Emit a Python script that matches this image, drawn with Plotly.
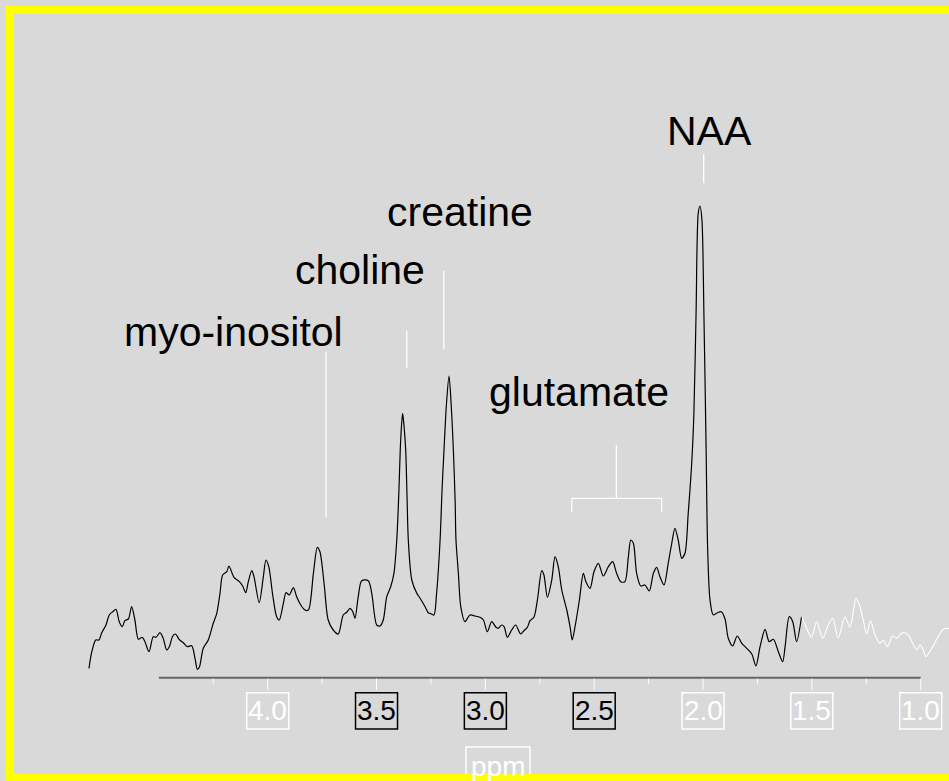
import plotly.graph_objects as go

# Proton MR spectrum: chemical shift (ppm) and signal intensity (a.u.)
ppm = [
    4.821, 4.808, 4.790, 4.775, 4.763, 4.743, 4.728, 4.712, 4.697, 4.682,
    4.668, 4.656, 4.640, 4.625, 4.610, 4.594, 4.576, 4.564, 4.545, 4.526,
    4.513, 4.495, 4.480, 4.464, 4.452, 4.436, 4.423, 4.407, 4.388, 4.369,
    4.349, 4.334, 4.323, 4.314, 4.296, 4.273, 4.250, 4.234, 4.219, 4.207,
    4.188, 4.178, 4.155, 4.130, 4.115, 4.101, 4.089, 4.073, 4.063, 4.039,
    4.020, 4.008, 3.995, 3.977, 3.959, 3.947, 3.928, 3.916, 3.901, 3.882,
    3.867, 3.848, 3.829, 3.813, 3.790, 3.772, 3.760, 3.741, 3.722, 3.699,
    3.676, 3.653, 3.637, 3.622, 3.609, 3.599, 3.584, 3.568, 3.538, 3.522,
    3.499, 3.484, 3.469, 3.453, 3.435, 3.420, 3.407, 3.397, 3.391, 3.385,
    3.380, 3.374, 3.366, 3.360, 3.354, 3.338, 3.315, 3.300, 3.277, 3.262,
    3.247, 3.236, 3.224, 3.208, 3.199, 3.190, 3.179, 3.167, 3.157, 3.147,
    3.139, 3.135, 3.124, 3.113, 3.094, 3.071, 3.048, 3.025, 3.009, 2.991,
    2.971, 2.951, 2.941, 2.925, 2.914, 2.899, 2.879, 2.861, 2.838, 2.823,
    2.807, 2.795, 2.777, 2.761, 2.741, 2.731, 2.715, 2.695, 2.680, 2.665,
    2.649, 2.626, 2.611, 2.601, 2.588, 2.568, 2.550, 2.538, 2.519, 2.501,
    2.481, 2.458, 2.435, 2.415, 2.397, 2.378, 2.359, 2.343, 2.332, 2.320,
    2.305, 2.286, 2.267, 2.247, 2.228, 2.213, 2.198, 2.179, 2.160, 2.145,
    2.129, 2.114, 2.098, 2.083, 2.068, 2.052, 2.042, 2.032, 2.022, 2.014,
    2.005, 1.996, 1.986, 1.979, 1.968, 1.953, 1.934, 1.916, 1.899, 1.884,
    1.864, 1.843, 1.822, 1.799, 1.776, 1.757, 1.738, 1.715, 1.696, 1.677,
    1.654, 1.634, 1.623, 1.604, 1.588, 1.570, 1.547,
]
intensity = [
    9.4, 26.0, 37.7, 37.7, 44.7, 52.7, 62.7, 66.0, 68.4, 56.0,
    51.0, 57.0, 58.7, 71.0, 57.7, 38.4, 40.4, 36.0, 26.0, 41.0,
    40.4, 45.0, 39.4, 27.7, 31.0, 41.7, 43.7, 38.4, 35.0, 31.0,
    32.0, 19.4, 8.4, 10.4, 29.4, 37.7, 54.4, 64.4, 84.4, 102.7,
    106.0, 111.7, 100.4, 96.0, 91.7, 85.0, 96.0, 107.0, 101.0, 75.0,
    101.0, 117.7, 111.0, 82.7, 61.0, 57.7, 74.4, 85.0, 82.7, 90.0,
    81.0, 72.7, 67.7, 67.7, 104.4, 130.4, 126.0, 94.4, 57.7, 47.7,
    43.7, 62.7, 65.4, 69.4, 66.0, 59.4, 81.0, 97.0, 97.0, 84.4,
    52.7, 51.7, 57.7, 81.0, 91.0, 104.4, 137.7, 187.7, 227.7, 252.7,
    264.4, 252.7, 227.7, 182.7, 137.7, 97.7, 84.4, 79.4, 71.0, 65.0,
    63.7, 62.7, 84.4, 137.7, 187.7, 227.7, 272.7, 301.7, 272.7, 227.7,
    177.7, 137.7, 104.4, 71.0, 56.0, 62.7, 61.7, 60.4, 57.7, 46.0,
    56.0, 50.4, 49.4, 52.7, 51.0, 40.4, 47.7, 52.7, 43.7, 47.0,
    50.4, 57.0, 60.4, 77.7, 107.0, 102.7, 80.4, 97.7, 121.0, 111.0,
    87.7, 67.7, 51.0, 37.7, 51.0, 77.7, 104.4, 96.0, 89.4, 106.0,
    114.4, 101.7, 111.0, 116.0, 104.4, 96.0, 96.0, 121.0, 137.7, 134.4,
    104.4, 91.7, 92.7, 86.7, 104.4, 110.4, 101.0, 92.7, 114.4, 132.7,
    149.4, 137.7, 119.4, 124.4, 164.4, 214.4, 264.4, 364.4, 464.4, 471.7,
    457.7, 364.4, 231.0, 131.0, 77.7, 62.7, 65.0, 66.0, 58.7, 39.4,
    31.7, 41.7, 34.4, 29.4, 23.7, 11.7, 31.0, 48.4, 36.0, 38.4,
    26.0, 16.0, 31.0, 61.0, 56.0, 36.0, 61.7,
]

# Upfield tail of the spectrum (below ~1.55 ppm)
ppm_tail = [
    1.547, 1.524, 1.501, 1.478, 1.450, 1.425, 1.404, 1.379, 1.348, 1.325,
    1.310, 1.297, 1.282, 1.264, 1.248, 1.230, 1.210, 1.187, 1.172, 1.153,
    1.129, 1.108, 1.092, 1.072, 1.052, 1.037, 1.018, 1.003, 0.991, 0.976,
    0.949, 0.924, 0.896, 0.870,
]
intensity_tail = [
    61.7, 49.4, 40.4, 56.0, 39.4, 52.7, 59.4, 39.4, 61.0, 50.4,
    66.0, 79.4, 72.7, 57.7, 43.7, 57.0, 42.7, 34.4, 37.7, 31.0,
    41.7, 39.4, 43.7, 45.0, 41.0, 34.4, 27.7, 32.7, 29.4, 21.0,
    29.4, 39.4, 48.4, 49.4,
]

# Axis ticks (ppm)
major_ticks = [4.0, 3.5, 3.0, 2.5, 2.0, 1.5, 1.0]
tick_labels = ["4.0", "3.5", "3.0", "2.5", "2.0", "1.5", "1.0"]
minor_ticks = [4.25, 3.75, 3.25, 2.75, 2.25, 1.75, 1.25]
axis_start, axis_end = 4.5, 1.0
dark_labels = {"3.5", "3.0", "2.5"}

# Metabolite labels: (text, label x, label y, guide x, guide y0, guide y1)
metabolites = [
    ("myo-inositol", 4.155, 346.0, 3.732, 160.4, 326.0),
    ("choline", 3.576, 407.7, 3.361, 309.4, 346.7),
    ("creatine", 3.117, 466.0, 3.191, 328.4, 407.0),
    ("NAA", 1.970, 546.7, 1.997, 494.4, 523.7),
]
glutamate = dict(text="glutamate", x=2.571, y=286.0,
                 stem_x=2.398, stem_top=232.7, bar_y=179.4,
                 left=2.603, right=2.190, leg_bottom=165.4)

BG = "#d9d9d9"
FONT = "Liberation Sans, Arial, Helvetica, sans-serif"

# tick label boxes (half width in ppm, top/bottom in intensity units)
BOX_HALF = 0.0965
BOX_TOP, BOX_BOTTOM = -15.0, -51.3
# axis title box
TITLE_X, TITLE_X0, TITLE_X1 = 2.942, 3.089, 2.795
TITLE_TOP, TITLE_TEXT_Y = -69.3, -89.0

fig = go.Figure()
fig.add_trace(go.Scatter(x=ppm, y=intensity, mode="lines",
                         line=dict(color="#000000", width=1.2, shape="spline", smoothing=0.8),
                         hoverinfo="skip", showlegend=False))
fig.add_trace(go.Scatter(x=ppm_tail, y=intensity_tail, mode="lines",
                         line=dict(color="#ffffff", width=1.1, shape="spline", smoothing=0.8),
                         hoverinfo="skip", showlegend=False))

shapes = []
# axis baseline
shapes.append(dict(type="line", xref="x", yref="y", x0=axis_start, x1=axis_end,
                   y0=0, y1=0, line=dict(color="#666666", width=2)))
for t in major_ticks:
    shapes.append(dict(type="line", xref="x", yref="y", x0=t, x1=t, y0=-1, y1=-12,
                       line=dict(color="#ffffff", width=1)))
for t in minor_ticks:
    shapes.append(dict(type="line", xref="x", yref="y", x0=t, x1=t, y0=-1, y1=-6,
                       line=dict(color="#ffffff", width=1)))
# boxed tick labels
for lbl, t in zip(tick_labels, major_ticks):
    col = "#000000" if lbl in dark_labels else "#ffffff"
    shapes.append(dict(type="rect", xref="x", yref="y", x0=t + BOX_HALF, x1=t - BOX_HALF,
                       y0=BOX_BOTTOM, y1=BOX_TOP, line=dict(color=col, width=1.5),
                       fillcolor="rgba(0,0,0,0)"))
shapes.append(dict(type="rect", xref="x", yref="y", x0=TITLE_X0, x1=TITLE_X1,
                   y0=-130, y1=TITLE_TOP, line=dict(color="#ffffff", width=1.5),
                   fillcolor="rgba(0,0,0,0)"))
# metabolite guide lines
for _, _, _, gx, gy0, gy1 in metabolites:
    shapes.append(dict(type="line", xref="x", yref="y", x0=gx, x1=gx, y0=gy0, y1=gy1,
                       line=dict(color="#ffffff", width=1.3)))
g = glutamate
shapes.append(dict(type="line", xref="x", yref="y", x0=g["stem_x"], x1=g["stem_x"],
                   y0=g["bar_y"], y1=g["stem_top"], line=dict(color="#ffffff", width=1.3)))
shapes.append(dict(type="line", xref="x", yref="y", x0=g["left"], x1=g["right"],
                   y0=g["bar_y"], y1=g["bar_y"], line=dict(color="#ffffff", width=1.3)))
for xx in (g["left"], g["right"]):
    shapes.append(dict(type="line", xref="x", yref="y", x0=xx, x1=xx,
                       y0=g["bar_y"], y1=g["leg_bottom"], line=dict(color="#ffffff", width=1.3)))
# yellow frame as filled bands along the top, left and bottom page edges
W, H = 949.0, 781.0
bands = [
    (6, 949, 6, 14),    # top  (x0, x1, y0, y1 in page pixels from top-left)
    (6, 14, 6, 781),    # left
    (6, 949, 774, 781),  # bottom
]
for bx0, bx1, by0, by1 in bands:
    shapes.append(dict(type="rect", xref="paper", yref="paper",
                       x0=bx0 / W, x1=bx1 / W, y0=1 - by1 / H, y1=1 - by0 / H,
                       line=dict(width=0), fillcolor="#ffff00"))

annotations = []
for lbl, t in zip(tick_labels, major_ticks):
    col = "#000000" if lbl in dark_labels else "#ffffff"
    annotations.append(dict(x=t, y=(BOX_TOP + BOX_BOTTOM) / 2, xref="x", yref="y",
                            text=lbl, showarrow=False, xanchor="center", yanchor="middle",
                            font=dict(family=FONT, size=28, color=col)))
annotations.append(dict(x=TITLE_X, y=TITLE_TEXT_Y, xref="x", yref="y", text="ppm",
                        showarrow=False, xanchor="center", yanchor="middle",
                        font=dict(family=FONT, size=28, color="#ffffff")))
for text, lx, ly, *_ in metabolites:
    annotations.append(dict(x=lx, y=ly, xref="x", yref="y", text=text, showarrow=False,
                            xanchor="center", yanchor="middle",
                            font=dict(family=FONT, size=41, color="#000000")))
annotations.append(dict(x=g["x"], y=g["y"], xref="x", yref="y", text=g["text"],
                        showarrow=False, xanchor="center", yanchor="middle",
                        font=dict(family=FONT, size=41, color="#000000")))

fig.update_layout(
    width=949, height=781,
    margin=dict(l=0, r=0, t=0, b=0),
    paper_bgcolor=BG, plot_bgcolor=BG,
    xaxis=dict(range=[5.2298, 0.870], visible=False, fixedrange=True),
    yaxis=dict(range=[-103.3, 677.7], visible=False, fixedrange=True),
    shapes=shapes, annotations=annotations,
    showlegend=False,
)

fig.write_html("out.html", config={"displayModeBar": False})
